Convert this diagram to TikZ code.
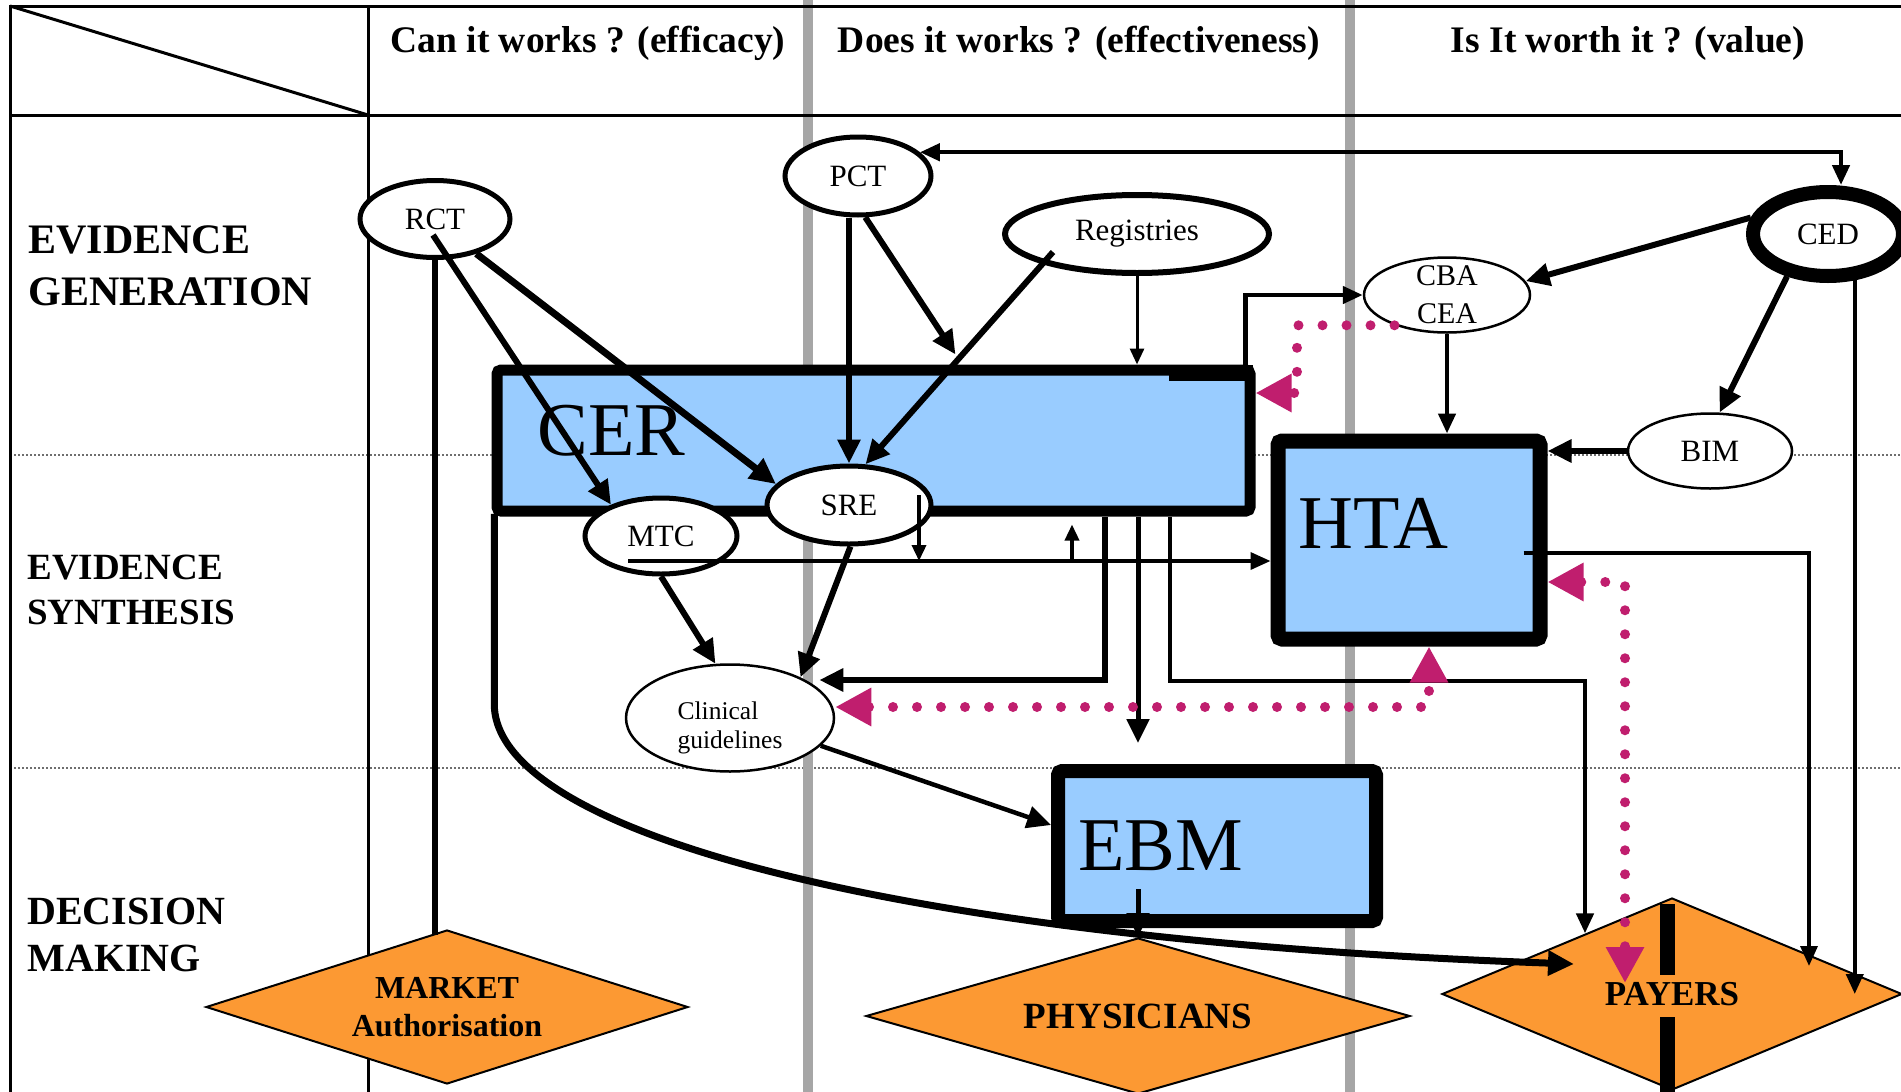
\documentclass[tikz,border=0pt]{standalone}
\usepackage{fontspec}
\setmainfont{Liberation Serif}
\usetikzlibrary{shapes.geometric,arrows.meta,calc}
\definecolor{boxblue}{RGB}{153,204,255}
\definecolor{dorange}{RGB}{252,153,51}
\definecolor{mag}{RGB}{192,30,110}
\definecolor{sepgray}{RGB}{166,166,166}
\definecolor{dotgray}{RGB}{110,110,110}
\tikzset{
  BigTri/.tip={Triangle[length=12pt,width=11pt]},
  MidTri/.tip={Triangle[length=10pt,width=8.5pt]},
  SmlTri/.tip={Triangle[length=8pt,width=7pt]},
  MagTri/.tip={Triangle[length=18pt,width=18pt]},
  gridline/.style={line width=1.5pt},
  rowdot/.style={dotgray, line width=1pt, dash pattern=on 1pt off 1pt},
  colsep/.style={sepgray, line width=5pt},
  hdr/.style={anchor=base, inner sep=0pt, font=\bfseries\fontsize{18.75}{23}\selectfont},
  rowlab/.style={anchor=north west, align=left, inner sep=0pt},
  ell/.style={ellipse, draw, fill=white, inner sep=0pt, font=\fontsize{15.5}{19}\selectfont},
  bluebox/.style={rectangle, draw, fill=boxblue, rounded corners=2pt, inner sep=0pt},
  bigtxt/.style={anchor=base west, inner sep=0pt, font=\fontsize{38}{44}\selectfont},
  dia/.style={diamond, draw, fill=dorange, line width=1pt, inner sep=0pt, align=center},
  w35/.style={line width=3.5pt},
  w3/.style={line width=3pt},
  w25/.style={line width=2.5pt},
  w225/.style={line width=2.25pt},
  w2/.style={line width=2pt},
  w175/.style={line width=1.75pt},
  w15/.style={line width=1.5pt},
  mdot/.style={mag, line width=5pt, line cap=round, dash pattern=on 0pt off 12pt},
}
\begin{document}
\begin{tikzpicture}[x=0.5pt,y=-0.5pt]
\useasboundingbox[fill=white] (0,0) rectangle (1901,1092);

% row separators and column separators
\draw[rowdot] (10,455) -- (1901,455);
\draw[rowdot] (10,768) -- (1901,768);
\draw[colsep] (808,0) -- (808,1092);
\draw[colsep] (1350,0) -- (1350,1092);

% table lines
\draw[gridline] (10,1092) -- (10,6) -- (1901,6);
\draw[gridline] (10,115) -- (1901,115);
\draw[gridline] (368,6) -- (368,1092);
\draw[gridline] (10,6) -- (368,115);

% headers
\node[hdr] (hA) at (588,53) {Can it works ? (efficacy)};
\node[hdr] (hB) at (1079,53) {Does it works ? (effectiveness)};
\node[hdr] (hC) at (1628,53) {Is It worth it ? (value)};

% row labels
\node[rowlab, font=\bfseries\fontsize{21}{26}\selectfont] (rA) at (28,225) {EVIDENCE\\GENERATION};
\node[rowlab, font=\bfseries\fontsize{18.5}{22.5}\selectfont] (rB) at (27,555) {EVIDENCE\\SYNTHESIS};
\node[rowlab, font=\bfseries\fontsize{20}{23.5}\selectfont] (rC) at (27,898) {DECISION\\MAKING};

% boxes
\node[bluebox, line width=5.5pt, minimum width=376.5pt, minimum height=70.5pt] (cer) at (873.5,440.5) {};
\fill (1169,365) rectangle (1253,381);
\node[bluebox, line width=7.5pt, minimum width=131pt, minimum height=99pt] (hta) at (1409,540) {};
\node[bluebox, line width=7pt, minimum width=159pt, minimum height=75pt] (ebm) at (1217,846) {};
\node[bigtxt] (certxt) at (537,455) {CER};
\node[bigtxt] (htatxt) at (1298,548) {HTA};
\node[bigtxt] (ebmtxt) at (1078,870) {EBM};

% diamonds
\node[dia, shape aspect=3.13, minimum width=241pt, minimum height=77pt, font=\bfseries\fontsize{16}{19}\selectfont] (market) at (447,1007) {MARKET\\Authorisation};
\node[dia, shape aspect=3.49, minimum width=272pt, minimum height=78pt, font=\bfseries\fontsize{18.5}{22}\selectfont] (phys) at (1138,1016) {PHYSICIANS};
\node[dia, shape aspect=2.4, minimum width=230pt, minimum height=96pt, font=\bfseries\fontsize{17.5}{21}\selectfont] (payers) at (1672,994) {PAYERS};
\draw[line width=7.5pt] (1667,904) -- (1667,975) (1667,1017) -- (1667,1096);

% ellipses
\node[ell, line width=2.5pt, minimum width=75pt, minimum height=38.5pt] (rct) at (435,219) {RCT};
\node[ell, line width=2.5pt, minimum width=73pt, minimum height=39pt] (pct) at (858,176) {PCT};
\node[ell, line width=3pt, minimum width=132pt, minimum height=39pt] (reg) at (1137,234) {Registries};
\node[ell, line width=7pt, minimum width=75pt, minimum height=42pt] (ced) at (1828,234) {CED};
\node[ell, line width=1.25pt, minimum width=83pt, minimum height=37.5pt, align=center, inner ysep=-6pt, font=\fontsize{15}{19}\selectfont] (cba) at (1447,295) {CBA\\CEA};
\node[ell, line width=1.25pt, minimum width=82pt, minimum height=37.5pt] (bim) at (1710,451) {BIM};
\node[ell, line width=2.5pt, minimum width=82pt, minimum height=39pt] (sre) at (849,505) {SRE};
\node[ell, line width=2.5pt, minimum width=76pt, minimum height=38pt] (mtc) at (661,536) {MTC};
\node[ell, line width=1.25pt, minimum width=104pt, minimum height=53.5pt, align=left, font=\fontsize{12.75}{14.5}\selectfont] (cg) at (730,718) {\rule{0pt}{19pt}Clinical\\guidelines};

% connectors
\coordinate (pcbend) at (1841,153);
\draw[w225, MidTri-MidTri] (pct.21) -- (pct.21 -| pcbend) -- (pcbend |- ced.north);
\draw[w3, -BigTri] ($(rct.center)+(-2,16)$) -- (mtc.148);
\draw[w35, -{Triangle[length=13pt,width=12pt]}] (rct.-40) -- (sre.164);
\draw[w3] (rct.south) -- ($(rct.south |- market.north)+(0,6)$);
\draw[w3, -BigTri] (pct.south -| sre.north) -- (sre.north);
\draw[w3, -BigTri] (pct.-80) -- ($(cer.north west)+(464,-10)$);
\draw[w3, -BigTri] ($(reg.center)+(-84,18)$) -- (sre.68);
\draw[w15, -SmlTri] (reg.south) -- (reg.south |- cer.north);
\draw[w225, -MidTri] ($(cer.north east)+(-10,0)$) |- (cba.west);
\draw[w3, -BigTri] (ced.168) -- (cba.10);
\draw[w3, -BigTri] (ced.-134) -- (bim.76);
\draw[w2, -MidTri] (ced.-60) -- (ced.-60 |- payers.center);
\draw[w225, -MidTri] (cba.south) -- (cba.south |- hta.north);
\draw[w3, -BigTri] (bim.west) -- (bim.west -| hta.east);
\draw[w3, -BigTri] (sre.-88) -- (cg.30);
\draw[w3, -BigTri] (mtc.south) -- (cg.105);

\coordinate (hs) at ($(mtc.center)+(-33,25)$);
\draw[w175, -MidTri] (hs) -- (hs -| hta.west);
\coordinate (sx) at ($(sre.center)+(70,-10)$);
\draw[w175, -SmlTri] (sx) -- (sx |- hs);
\coordinate (ux) at (1072,561);
\draw[w175, -SmlTri] (ux) -- ($(ux |- cer.south)+(0,8)$);

\coordinate (v1) at (1105,680);
\draw[w3, -BigTri] (v1 |- cer.south) -- (v1) -- ($(v1 -| cg.east)+(-16,0)$);
\coordinate (v2) at (1138,743);
\draw[w25, -BigTri] (v2 |- cer.south) -- (v2);
\coordinate (v3) at (1170,681);
\coordinate (v3b) at (1585,681);
\draw[w225, -MidTri] (v3 |- cer.south) -- (v3) -- (v3b) -- (v3b |- payers.145);

\coordinate (h1) at (1809,553);
\coordinate (payne) at (1809,966);
\draw[w175, -MidTri] ($(h1 -| hta.east)+(-24,0)$) -- (h1) -- (payne);

\draw[w225, -BigTri] (cg.-17) -- ($(ebm.west)+(0,-21)$);
\coordinate (e1) at (1138,889);
\draw[w25, -BigTri] (e1) -- (e1 |- phys.north);

\coordinate (payl) at (1574,964);
\draw[w35, -{Triangle[length=13pt,width=12pt]}] ($(cer.south west)+(2.75,-2.75)$) -- ++(0,190) .. controls +(0,130) and (900,940) .. (payl);

% magenta dotted links
\coordinate (m1) at (1297,329);
\coordinate (m2) at (1297,393);
\draw[mdot, -MagTri] (cba.210) -- (cba.210 -| m1) -- (m2) -- (m2 -| cer.east);
\coordinate (m3) at (1429,707);
\draw[mdot, MagTri-MagTri] (m3 -| cg.east) -- (m3) -- (m3 |- hta.south);
\coordinate (m4) at (1625,582);
\coordinate (m5) at (1625,983);
\draw[mdot, MagTri-MagTri] (m4 -| hta.east) -- (m4) -- (m5);
\end{tikzpicture}
\end{document}
